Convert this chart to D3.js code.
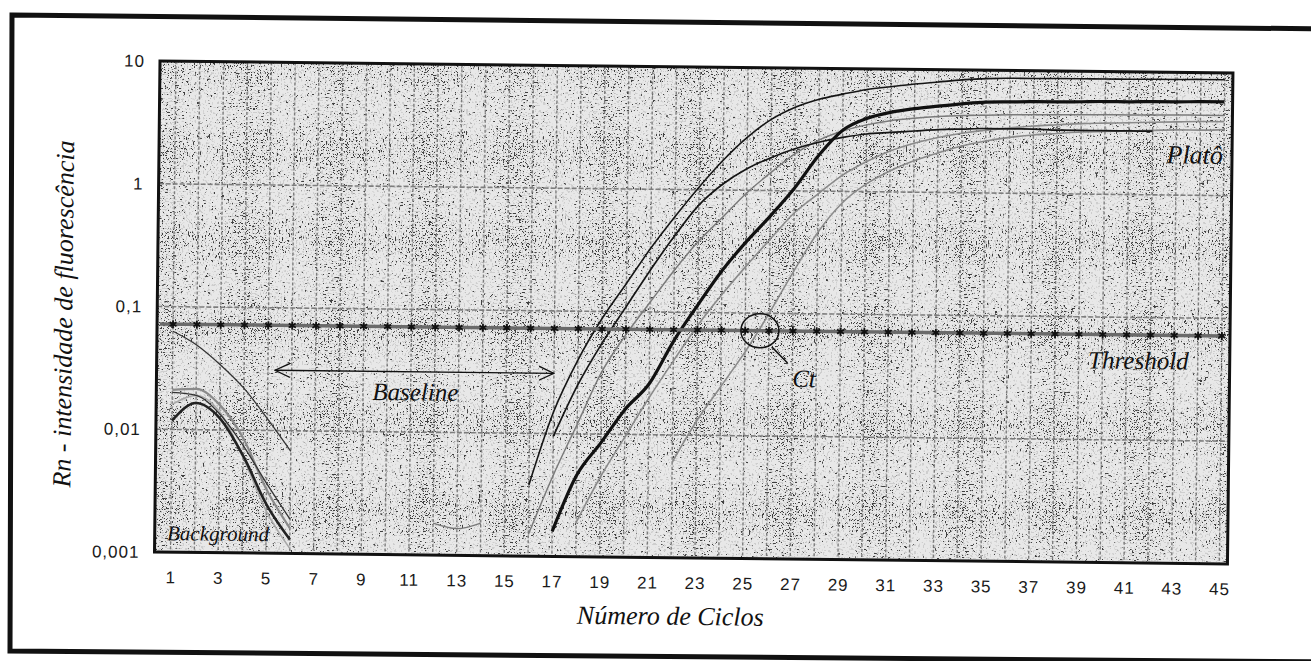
<!DOCTYPE html>
<html>
<head>
<meta charset="utf-8">
<script src="https://cdn.jsdelivr.net/npm/d3@7"></script>
<style>
  body { margin: 0; background: #fff; }
  svg { display: block; }
  .tick text { font-family: "Liberation Sans", Arial, sans-serif; font-size: 17px; fill: #1a1a1a; letter-spacing: 1px; }
  .note { font-family: "Liberation Serif", "Times New Roman", serif; font-style: italic; fill: #111; }
</style>
</head>
<body>
<svg id="chart" width="1311" height="661"></svg>
<script>
// x axis: cycle numbers
var cycles = [1,2,3,4,5,6,7,8,9,10,11,12,13,14,15,16,17,18,19,20,21,22,23,24,25,26,27,28,29,30,31,32,33,34,35,36,37,38,39,40,41,42,43,44,45];
var xTicks = [1,3,5,7,9,11,13,15,17,19,21,23,25,27,29,31,33,35,37,39,41,43,45];
var yTicks = [10, 1, 0.1, 0.01, 0.001];
var yTickLabels = ["10", "1", "0,1", "0,01", "0,001"];

var thresholdValue = 0.072;

// amplification curves (Rn per cycle), each with the cycle it starts at
var ampTopStart = 16;
var ampTop = [0.0038,0.015,0.040,0.088,0.17,0.33,0.6,1.05,1.75,2.7,3.8,4.8,5.6,6.2,6.8,7.2,7.6,7.95,8.3,8.55,8.65,8.65,8.7,8.7,8.7,8.7,8.75,8.75,8.8,8.8];
var ampEarlyStart = 17;
var ampEarly = [0.0095,0.025,0.055,0.11,0.22,0.42,0.75,1.12,1.5,1.85,2.2,2.5,2.75,2.95,3.05,3.15,3.25,3.3,3.35,3.35,3.35,3.3,3.3,3.3,3.3,3.3];
var ampBoldStart = 17;
var ampBold = [0.0016,0.0046,0.0085,0.016,0.026,0.058,0.115,0.22,0.38,0.62,1.05,1.95,3.15,3.95,4.45,4.8,5.05,5.3,5.5,5.55,5.6,5.6,5.65,5.7,5.7,5.75,5.75,5.8,5.8];
var ampGreyAStart = 16;
var ampGreyA = [0.0015,0.0045,0.012,0.032,0.065,0.12,0.22,0.38,0.6,0.95,1.4,2.0,2.6,3.1,3.5,3.8,4.0,4.15,4.25,4.3,4.35,4.38,4.4,4.42,4.45,4.45,4.48,4.5,4.5,4.5];
var ampGreyBStart = 18;
var ampGreyB = [0.0019,0.0045,0.0095,0.02,0.04,0.078,0.14,0.24,0.4,0.66,0.95,1.35,1.75,2.15,2.5,2.8,3.05,3.25,3.4,3.55,3.65,3.75,3.8,3.85,3.9,3.95,4.0,4.0];
var ampGreyCStart = 22;
var ampGreyC = [0.006,0.013,0.025,0.048,0.1,0.22,0.46,0.8,1.15,1.48,1.8,2.1,2.4,2.65,2.85,3.0,3.1,3.2,3.25,3.3,3.35,3.4,3.4,3.45];

// background (first cycles)
var bgTopStart = 1;
var bgTop = [0.063,0.049,0.034,0.022,0.0125,0.0068];
var bgBoldStart = 1;
var bgBold = [0.0118,0.0165,0.0125,0.0062,0.0025,0.0013];
var bgThinStart = 1;
var bgThin = [0.020,0.019,0.0135,0.0075,0.0037,0.0019];
var bgGreyStart = 1;
var bgGrey = [0.021,0.0215,0.016,0.0086,0.0033,0.0016];
var bgLightStart = 1;
var bgLight = [0.016,0.019,0.014,0.006,0.0022,0.0011];
var dipStart = 12;
var dip = [0.00182,0.00165,0.00184];

var W = 1073, H = 491;
var svg = d3.select("#chart");

// scanned page is slightly rotated
var outer = "M12,15 L1330,29 L1330,662 L10,651 Z";
svg.append("path").attr("d", outer).attr("fill", "none").attr("stroke", "#111").attr("stroke-width", 5);

var defs = svg.append("defs");
function stipple(id, seed, freq, grey, cut) {
    var f = defs.append("filter").attr("id", id).attr("filterUnits", "userSpaceOnUse")
        .attr("x", 0).attr("y", 0).attr("width", W).attr("height", H);
    f.append("feTurbulence").attr("type", "fractalNoise").attr("baseFrequency", freq)
        .attr("numOctaves", 1).attr("seed", seed);
    f.append("feColorMatrix").attr("type", "matrix")
        .attr("values", "0 0 0 0 " + grey + "  0 0 0 0 " + grey + "  0 0 0 0 " + grey + "  30 0 0 0 " + cut);
}
stipple("dotsGrey", 3, 0.7, 0.62, -16.2);
stipple("dotsBlack", 11, 1.3, 0.05, -17.5);
defs.append("clipPath").attr("id", "plotClip").append("rect").attr("width", W).attr("height", H);
defs.append("marker").attr("id", "arrowHead").attr("viewBox", "0 0 16 16")
    .attr("refX", 15).attr("refY", 8).attr("markerWidth", 16).attr("markerHeight", 16)
    .attr("markerUnits", "userSpaceOnUse").attr("orient", "auto-start-reverse")
    .append("path").attr("d", "M0,1 L15,8 L0,15").attr("fill", "none").attr("stroke", "#111").attr("stroke-width", 1.3);

var g = svg.append("g").attr("transform", "translate(160,61) rotate(0.64)");

var x = d3.scaleLinear().domain([0.33, 45.34]).range([0, W]);
var y = d3.scaleLog().domain([0.001, 10]).range([H, 0]);

// plot background
g.append("rect").attr("width", W).attr("height", H).attr("fill", "#e8e8e8");
g.append("rect").attr("width", W).attr("height", H).attr("fill", "#000").attr("filter", "url(#dotsGrey)");
g.append("rect").attr("width", W).attr("height", H).attr("fill", "#000").attr("filter", "url(#dotsBlack)");

// grid
var grid = g.append("g").attr("clip-path", "url(#plotClip)");
grid.selectAll(".vgrid").data(cycles).enter().append("line")
    .attr("class", "vgrid")
    .attr("x1", function (d) { return x(d); }).attr("x2", function (d) { return x(d); })
    .attr("y1", 0).attr("y2", H)
    .attr("stroke", "#7d7d7d").attr("stroke-width", 1.4).attr("stroke-dasharray", "3,2");
grid.selectAll(".hgrid").data([1, 0.1, 0.01]).enter().append("line")
    .attr("class", "hgrid")
    .attr("x1", 0).attr("x2", W)
    .attr("y1", function (d) { return y(d); }).attr("y2", function (d) { return y(d); })
    .attr("stroke", "#7d7d7d").attr("stroke-width", 1.6).attr("stroke-dasharray", "5,2");

// series
function pts(start, vals) {
    return vals.map(function (v, i) { return [start + i, v]; });
}
var series = [
    { p: pts(bgLightStart, bgLight), c: "#a8a8a8", w: 1.6 },
    { p: pts(bgGreyStart, bgGrey), c: "#8a8a8a", w: 2.2 },
    { p: pts(bgThinStart, bgThin), c: "#333", w: 1.3 },
    { p: pts(bgBoldStart, bgBold), c: "#222", w: 2.6 },
    { p: pts(bgTopStart, bgTop), c: "#333", w: 1.3 },
    { p: pts(dipStart, dip), c: "#777", w: 1.3 },
    { p: pts(ampGreyAStart, ampGreyA), c: "#7a7a7a", w: 1.5 },
    { p: pts(ampGreyBStart, ampGreyB), c: "#8a8a8a", w: 1.6 },
    { p: pts(ampGreyCStart, ampGreyC), c: "#8a8a8a", w: 1.6 },
    { p: pts(ampEarlyStart, ampEarly), c: "#151515", w: 1.7 },
    { p: pts(ampTopStart, ampTop), c: "#151515", w: 1.6 },
    { p: pts(ampBoldStart, ampBold), c: "#111", w: 3.2 }
];
var line = d3.line()
    .x(function (d) { return x(d[0]); })
    .y(function (d) { return y(d[1]); })
    .curve(d3.curveMonotoneX);
var lines = g.append("g").attr("clip-path", "url(#plotClip)");
lines.selectAll("path").data(series).enter().append("path")
    .attr("d", function (d) { return line(d.p); })
    .attr("fill", "none")
    .attr("stroke", function (d) { return d.c; })
    .attr("stroke-width", function (d) { return d.w; })
    .attr("stroke-linejoin", "round");

// threshold
g.append("line")
    .attr("x1", x(0.45)).attr("x2", x(45))
    .attr("y1", y(thresholdValue)).attr("y2", y(thresholdValue))
    .attr("stroke", "#6a6a6a").attr("stroke-width", 3.5);
g.selectAll(".thr").data(cycles).enter().append("path")
    .attr("class", "thr")
    .attr("transform", function (d) { return "translate(" + x(d) + "," + y(thresholdValue) + ")"; })
    .attr("d", d3.symbol(d3.symbolAsterisk, 45))
    .attr("fill", "none").attr("stroke", "#111").attr("stroke-width", 1.8);

// Ct circle
var ctCycle = 25.62;
var cx = x(ctCycle), cy = y(thresholdValue);
g.append("ellipse").attr("cx", cx).attr("cy", cy).attr("rx", 19).attr("ry", 17)
    .attr("fill", "none").attr("stroke", "#111").attr("stroke-width", 1.5);
g.append("line").attr("x1", cx + 12).attr("y1", cy + 16).attr("x2", cx + 28).attr("y2", cy + 32)
    .attr("stroke", "#111").attr("stroke-width", 1.5);

// baseline arrow
var baselineFrom = 5.3, baselineTo = 17.0, baselineValue = 0.031;
g.append("line")
    .attr("x1", x(baselineFrom)).attr("x2", x(baselineTo))
    .attr("y1", y(baselineValue)).attr("y2", y(baselineValue))
    .attr("stroke", "#111").attr("stroke-width", 1.3)
    .attr("marker-start", "url(#arrowHead)").attr("marker-end", "url(#arrowHead)");

// labels inside plot
function note(text, c, v, anchor, size) {
    g.append("text").attr("class", "note")
        .attr("x", x(c)).attr("y", y(v))
        .attr("text-anchor", anchor)
        .style("font-size", size + "px")
        .text(text);
}
note("Platô", 44.96, 1.81, "end", 26);
note("Threshold", 43.62, 0.038, "end", 25);
note("Baseline", 9.39, 0.0181, "start", 25);
note("Background", 0.85, 0.00125, "start", 21);
note("Ct", 27.0, 0.0252, "start", 25);

// border
g.append("rect").attr("width", W).attr("height", H)
    .attr("fill", "none").attr("stroke", "#111").attr("stroke-width", 3);

// axes
var yAxis = d3.axisLeft(y).tickValues(yTicks).tickSize(0).tickPadding(15)
    .tickFormat(function (d, i) { return yTickLabels[i]; });
var xAxis = d3.axisBottom(x).tickValues(xTicks).tickSize(0).tickPadding(19)
    .tickFormat(function (d) { return String(d); });
g.append("g").call(yAxis).call(function (s) { s.select(".domain").remove(); });
g.append("g").attr("transform", "translate(0," + H + ")").call(xAxis)
    .call(function (s) { s.select(".domain").remove(); });
g.selectAll(".tick text").attr("fill", "#1a1a1a");

// axis titles
g.append("text").attr("class", "note")
    .attr("x", W / 2 - 20).attr("y", H + 67)
    .attr("text-anchor", "middle").style("font-size", "26px")
    .text("Número de Ciclos");
g.append("text").attr("class", "note")
    .attr("transform", "translate(-85,254) rotate(-90)")
    .attr("text-anchor", "middle").style("font-size", "26px")
    .text("Rn - intensidade de fluorescência");
</script>
</body>
</html>
